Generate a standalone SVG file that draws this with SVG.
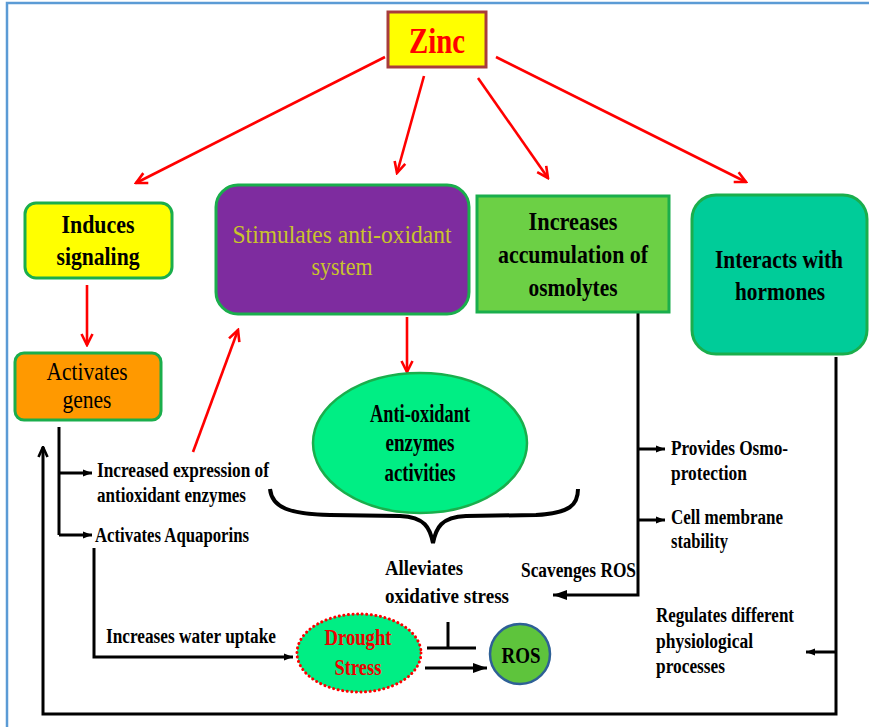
<svg xmlns="http://www.w3.org/2000/svg" width="869" height="727" viewBox="0 0 869 727">
<defs>
<style>
text{font-family:"Liberation Serif","Times New Roman",serif;font-weight:bold;fill:#000}
.big{font-size:26px}
.sm{font-size:20px}
.reg{font-weight:normal}
.mid{text-anchor:middle}
.red{stroke:#f00;stroke-width:2.6;fill:none}
.blk{stroke:#000;stroke-width:3;fill:none}
.node{stroke:#1aae4c;stroke-width:3}
</style>
<marker id="ra" viewBox="0 0 14 14" refX="12" refY="7" markerWidth="14" markerHeight="14" markerUnits="userSpaceOnUse" orient="auto"><path d="M1,1.5 L12,7 L1,12.5" fill="none" stroke="#f00" stroke-width="2.6"/></marker>
<marker id="ba" viewBox="0 0 10 10" refX="10" refY="5" markerWidth="9" markerHeight="9" markerUnits="userSpaceOnUse" orient="auto"><path d="M0,1 L10,5 L0,9 z" fill="#000"/></marker>
<marker id="bb" viewBox="0 0 10 10" refX="10" refY="5" markerWidth="14" markerHeight="14" markerUnits="userSpaceOnUse" orient="auto"><path d="M0,1.5 L10,5 L0,8.5 z" fill="#000"/></marker>
<marker id="bo" viewBox="0 0 12 12" refX="11" refY="6" markerWidth="12" markerHeight="12" markerUnits="userSpaceOnUse" orient="auto"><path d="M1,1.5 L11,6 L1,10.5" fill="none" stroke="#000" stroke-width="2.6"/></marker>
</defs>
<rect width="869" height="727" fill="#fff"/>
<rect x="7" y="3" width="880" height="740" fill="none" stroke="#5b9bd5" stroke-width="2.5"/>

<g id="connectors">
<line class="red" x1="385" y1="57" x2="136" y2="183" marker-end="url(#ra)"/>
<line class="red" x1="424" y1="76" x2="397" y2="173" marker-end="url(#ra)"/>
<line class="red" x1="478" y1="78" x2="548" y2="178" marker-end="url(#ra)"/>
<line class="red" x1="496" y1="57" x2="746" y2="182" marker-end="url(#ra)"/>
<line class="red" x1="87" y1="285" x2="87" y2="345" marker-end="url(#ra)"/>
<line class="red" x1="193" y1="452" x2="238" y2="330" marker-end="url(#ra)"/>
<line class="red" x1="407" y1="317" x2="407" y2="372" marker-end="url(#ra)"/>

<polyline class="blk" points="59,427 59,535"/>
<line class="blk" x1="59" y1="473" x2="92" y2="473" marker-end="url(#ba)"/>
<line class="blk" x1="59" y1="535" x2="92" y2="535" marker-end="url(#ba)"/>
<polyline class="blk" points="94,548 94,657 293,657" marker-end="url(#ba)"/>
<polyline class="blk" points="836,357 836,714 43,714 43,447" marker-end="url(#bo)"/>
<line class="blk" x1="836" y1="652" x2="806" y2="652" marker-end="url(#ba)"/>
<polyline class="blk" points="638,312 638,595 553,595" marker-end="url(#bb)"/>
<line class="blk" x1="638" y1="449" x2="665" y2="449" marker-end="url(#ba)"/>
<line class="blk" x1="638" y1="520" x2="665" y2="520" marker-end="url(#ba)"/>
<path d="M270,489 C272,508 290,514 330,515 L400,516 C425,517 430,528 433,543 C436,528 441,517 466,516 L536,515 C570,513 578,505 578,489" fill="none" stroke="#000" stroke-width="4"/>
<polyline class="blk" points="448,622 448,648" stroke-width="3.5"/>
<line class="blk" x1="427" y1="648" x2="476" y2="648" stroke-width="3.5"/>
<line class="blk" x1="425" y1="668" x2="487" y2="668" stroke-width="3.5" marker-end="url(#bb)"/>
</g>

<g id="zinc">
<rect x="388" y="12" width="98" height="55" fill="#ffff00" stroke="#a83c3c" stroke-width="3"/>
<text x="437" y="53" class="mid" font-size="36" style="fill:#f00" textLength="56" lengthAdjust="spacingAndGlyphs">Zinc</text>
</g>

<g id="induces">
<rect x="25" y="203" width="147" height="75" rx="11" fill="#ffff00" class="node"/>
<text x="98" y="233" class="big mid" textLength="73" lengthAdjust="spacingAndGlyphs">Induces</text>
<text x="98" y="265" class="big mid" textLength="83" lengthAdjust="spacingAndGlyphs">signaling</text>
</g>

<g id="stimulates">
<rect x="216" y="185" width="253" height="129" rx="22" fill="#7e2c9f" class="node"/>
<text x="342" y="243" class="big mid reg" style="fill:#c9c42c" textLength="219" lengthAdjust="spacingAndGlyphs">Stimulates anti-oxidant</text>
<text x="342" y="275" class="big mid reg" style="fill:#c9c42c" textLength="61" lengthAdjust="spacingAndGlyphs">system</text>
</g>

<g id="osmolytes">
<rect x="477" y="196" width="192" height="116" fill="#6cd045" class="node"/>
<text x="573" y="230" class="big mid" textLength="89" lengthAdjust="spacingAndGlyphs">Increases</text>
<text x="573" y="263" class="big mid" textLength="150" lengthAdjust="spacingAndGlyphs">accumulation of</text>
<text x="573" y="296" class="big mid" textLength="89" lengthAdjust="spacingAndGlyphs">osmolytes</text>
</g>

<g id="hormones">
<rect x="692" y="195" width="175" height="159" rx="24" fill="#00cc99" class="node"/>
<text x="779" y="268" class="big mid" textLength="128" lengthAdjust="spacingAndGlyphs">Interacts with</text>
<text x="780" y="300" class="big mid" textLength="90" lengthAdjust="spacingAndGlyphs">hormones</text>
</g>

<g id="genes">
<rect x="15" y="353" width="146" height="67" rx="9" fill="#ff9900" class="node"/>
<text x="87" y="380" class="big mid reg" textLength="81" lengthAdjust="spacingAndGlyphs">Activates</text>
<text x="87" y="408" class="big mid reg" textLength="49" lengthAdjust="spacingAndGlyphs">genes</text>
</g>

<g id="enzymes">
<ellipse cx="420" cy="443" rx="107" ry="70" fill="#00ee84" stroke="#1aae4c" stroke-width="2.5"/>
<text x="420" y="422" class="big mid" textLength="100" lengthAdjust="spacingAndGlyphs">Anti-oxidant</text>
<text x="420" y="451" class="big mid" textLength="69" lengthAdjust="spacingAndGlyphs">enzymes</text>
<text x="420" y="481" class="big mid" textLength="71" lengthAdjust="spacingAndGlyphs">activities</text>
</g>

<g id="labels-left">
<text x="97" y="477" class="sm" textLength="172" lengthAdjust="spacingAndGlyphs">Increased expression of</text>
<text x="97" y="502" class="sm" textLength="149" lengthAdjust="spacingAndGlyphs">antioxidant enzymes</text>
<text x="95" y="542" class="sm" textLength="154" lengthAdjust="spacingAndGlyphs">Activates Aquaporins</text>
<text x="106" y="643" class="sm" textLength="170" lengthAdjust="spacingAndGlyphs">Increases water uptake</text>
</g>

<g id="alleviates">
<text x="385" y="575" class="sm" font-size="21" textLength="78" lengthAdjust="spacingAndGlyphs">Alleviates</text>
<text x="385" y="603" class="sm" font-size="21" textLength="124" lengthAdjust="spacingAndGlyphs">oxidative stress</text>
</g>

<g id="labels-right">
<text x="521" y="577" class="sm" textLength="115" lengthAdjust="spacingAndGlyphs">Scavenges ROS</text>
<text x="671" y="455" class="sm" textLength="117" lengthAdjust="spacingAndGlyphs">Provides Osmo-</text>
<text x="671" y="480" class="sm" textLength="76" lengthAdjust="spacingAndGlyphs">protection</text>
<text x="671" y="524" class="sm" textLength="112" lengthAdjust="spacingAndGlyphs">Cell membrane</text>
<text x="671" y="548" class="sm" textLength="57" lengthAdjust="spacingAndGlyphs">stability</text>
<text x="656" y="622" class="sm" textLength="138" lengthAdjust="spacingAndGlyphs">Regulates different</text>
<text x="656" y="648" class="sm" textLength="97" lengthAdjust="spacingAndGlyphs">physiological</text>
<text x="656" y="673" class="sm" textLength="69" lengthAdjust="spacingAndGlyphs">processes</text>
</g>

<g id="drought">
<ellipse cx="359" cy="653" rx="62" ry="39" fill="#00ee84" stroke="#f00" stroke-width="3" stroke-dasharray="0.1 4.5" stroke-linecap="round"/>
<text x="358" y="645" class="mid" font-size="23" style="fill:#e00" textLength="67" lengthAdjust="spacingAndGlyphs">Drought</text>
<text x="358" y="675" class="mid" font-size="23" style="fill:#e00" textLength="47" lengthAdjust="spacingAndGlyphs">Stress</text>
</g>

<g id="ros">
<circle cx="520" cy="654" r="30" fill="#5ec43c" stroke="#2e6096" stroke-width="2.5"/>
<text x="521" y="663" class="mid" font-size="24" textLength="39" lengthAdjust="spacingAndGlyphs">ROS</text>
</g>
</svg>
